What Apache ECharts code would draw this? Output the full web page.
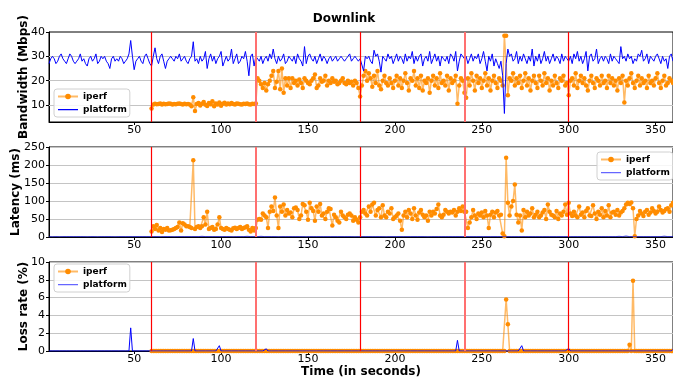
<!DOCTYPE html>
<html>
<head>
<meta charset="utf-8">
<script src="https://cdn.jsdelivr.net/npm/echarts@6.0.0/dist/echarts.min.js"></script>
<style>
  html, body { margin: 0; padding: 0; background: #fff; }
  #chart { width: 673px; height: 379px; }
</style>
</head>
<body>
<div id="chart"></div>
<script>
// time axis: platform samples start at t=1, iperf at t=60
const platformStart = 1;
const iperfStart = 60;
const xTicks = [50, 100, 150, 200, 250, 300, 350];
const phaseMarks = [60, 120, 180, 240, 300];
const bwTicks = [10, 20, 30, 40];

const platformBw = [
  27,29,30,29,27,28,30,31,29,28,27,29,31,30,28,27,28,29,31,28,
  29,27,26,29,30,28,29,31,27,28,30,29,30,28,27,25,29,30,28,29,
  28,30,29,27,28,29,31,36.5,30,24.5,28,29,30,28,27,30,31,29,27,26,
  30,33.5,29,27,30,31,28,25,28,29,30,29,28,30,29,31,28,29,30,28,
  27,29,30,36,28,29,27,30,28,29,32,25,29,31,28,30,27,29,30,32,
  26,28,30,28,29,33,27,29,31,27,28,30,29,32,28,22,30,31,26,30,
  29.5,28,30,27,29,30,28,31,29,33,29,27,30,28,29,31,27,28,30,29,
  28,30,27,31,29,28,26,34,27,30,31,29,28,30,27,29,31,28,30,29,
  27,29,30,28,29,30,28,29,30,29,28,29,30,31,28,29,30,29,28,29,
  29,24,30,29,30,28,27,32.5,30,31,28,23.5,30,29,28,31,29,30,27,29,
  31,28,30,29,27,31,28,30,29,32,27,30,28,30,31,26,29,30,28,32,
  27,29,31,28,30,26,30,29,28,30,27,31,30,28,32,24,28,31,30,29,
  30,27,29,31,28,30,29,31,27,29,32,28,24,30,28,31,26,29,27,25,
  28,22,6.5,27,33,30,31,28,29,32,
  27,30,28,31,29,27,30,28,33,26,
  30,28,31,27,29,32,28,30,27,29,31,28,30,29,27,31,28,30,29,28,
  30,27,31,29,32,28,30,27,29,32,24,30,31,28,29,33,27,29,30,28,
  30,29,27,31,28,30,29,28,27,34,29,30,28,31,29,30,27,29,28,31,
  30,32.5,28,29,31,27,30,29,28,30,31,29,27,30,28,29,25,30,31,28
];

const iperfBw = [
  8.5,
  10.2,10.5,10.3,10.4,10.6,10.2,10.5,10.3,10.4,10.6,10.5,10.2,10.4,10.3,10.5,10.6,10.4,10.2,10.5,10.3,
  10.4,10.2,9.5,13.2,7.5,10.4,10.8,9.8,10.5,11.2,10.1,9.6,10.8,10.3,11.5,9.5,10.6,10.2,11.0,9.7,
  10.5,10.9,10.2,10.6,10.3,10.8,10.4,10.2,10.6,10.5,10.3,10.2,10.5,10.4,10.6,10.3,10.2,10.5,10.4,10.6,
  21,20,18.5,17,19,16,18.5,20,22,24,17,19.5,24,16.5,25,15,21,18,21,17,
  21,19,20,18,20.5,19,17,21,20,19,18.5,20,21,22.5,17,18,21,19.5,20,22,
  18,20,19,21,19.5,20,18.5,19,20,21,19,18.5,20,19,19.5,18,20,19,17,13.5,
  18,22,24,20,23,21,17.5,22,19,24,18,16.5,20,22,19,18,21,19,17,20,
  22,18,21,17,20,23,19,16,21,20,24,18,21,17,22,16,20,19,21,15,
  20,22,18,21,17,23,19,20,18,22,16,21,19,20,22,10.5,18,21,20,15,
  13,21,18,23,20,16,22,19,21,17,20,23,18,21,16,20,22,19,17,21,
  20,18,38.5,38.5,14,21,20,23,18,21,
  19,22,17,20,23,18,21,16,20,22,
  19,17,22,20,18,23,19,21,16,20,18,22,19,17,21,20,22,18,19,14,
  20,21,18,23,17,20,22,19,21,18,16,20,22,19,17,21,20,18,22,19,
  20,17,22,19,21,18,20,16,21,19,22,11,20,18,21,23,19,17,20,22,
  18,21,19,20,17,22,19,20,18,21,23,19,17,20,22,18,19,21,20,19
];

const platformLat = [
  1,1,0.5,1,1,1,0.5,1,1,1, 1,0.5,1,1,1,1,1,0.5,1,1, 1,1,0.5,1,1,1,1,1,0.5,1,
  1,1,1,0.5,1,1,1,1,0.5,1, 1,1,1,1,1,0.5,1,2,1,1, 1,0.5,1,1,1,1,1,0.5,1,1,
  1,1,1,1,0.5,1,1,1,1,1, 1,1,0.5,1,1,1,1,1,1,1, 1,2,1,1,1,0.5,1,1,2,1,
  1,1,1,2,1,1,1,0.5,1,1, 1,1,1,1,1,1,0.5,1,1,1, 1,1,1,1,2,1,1,1,1,1,
  1,1,2,1,1,1,1,1,1,1, 1,1,0.5,1,1,1,1,1,1,1, 1,1,1,1,1,1,1,1,0.5,1,
  1,1,1,0.5,1,1,1,1,1,1, 1,1,1,1,1,0.5,1,1,1,1, 1,1,1,1,1,1,0.5,1,1,1,
  1,1,1,1,1,0.5,1,1,1,1, 1,1,1,1,0.5,1,1,1,1,1, 1,1,1,1,1,1,1,0.5,1,1,
  1,1,1,1,1,1,1,1,0.5,1, 1,1,1,1,1,1,1,1,1,1, 1,1,1,1,1,3,1,1,1,1,
  1,1,1,1,1,0.5,1,1,1,1, 1,1,1,1,1,1,1,1,1,1, 1,2,1,1,1,1,1,1,1,1,
  1,1,1,1,1,1,1,1,1,1, 1,0.5,1,1,1,1,1,1,1,1, 1,1,1,1,1,1,1,1,1,1,
  1,1,1,1,1,1,1,3,1,1, 1,2.5,1,1,1,1,1,3,1,1, 1,2,1,1,1,3.5,1,1,2,1,
  1,1,3,1,1,2.5,1,1,1,2, 1,1,1,1,1,1,1,1,1,1, 1,1,1,1,2.5,1,1,1,1,1
];

const iperfLat = [
  15,
  30,22,33,18,25,14,22,20,25,18,19,20,22,25,28,40,18,38,35,30,
  30,28,25,213,22,28,30,25,30,55,35,70,22,25,28,20,22,35,55,25,
  22,20,25,22,20,18,24,26,22,25,28,22,25,27,30,20,15,25,18,25,
  48,50,48,65,60,55,25,70,85,72,110,60,25,85,70,90,60,75,65,68,
  55,80,82,75,50,60,92,88,70,48,95,80,72,45,85,70,92,60,65,50,
  70,80,78,32,62,55,45,40,70,60,55,50,62,65,60,45,55,48,40,55,
  70,75,65,60,85,70,90,95,60,75,80,55,88,60,55,70,65,80,50,55,
  60,65,45,20,60,70,55,75,65,50,80,60,48,68,75,62,55,60,45,70,
  60,70,65,78,90,60,55,62,75,70,65,70,68,75,60,70,80,72,85,70,
  70,25,40,55,75,60,50,65,60,68,55,72,60,25,62,70,55,68,72,60,
  62,10,2,220,95,60,85,100,146,62,
  40,60,18,75,55,70,60,65,80,55,
  62,70,55,60,68,75,50,90,70,62,60,55,72,50,65,60,70,90,62,95,
  65,58,70,60,55,85,62,68,55,72,80,60,58,88,65,50,70,62,80,55,
  72,60,88,55,68,70,62,75,60,68,72,80,90,95,92,96,80,2,50,60,
  72,65,58,70,75,62,68,80,72,65,70,85,75,68,72,78,80,70,88,95
];

const platformLoss = [
  0,0,0,0,0,0,0,0,0,0, 0,0,0,0,0,0,0,0,0,0, 0,0,0,0,0,0,0,0,0,0,
  0,0,0,0,0,0,0,0,0,0, 0,0,0,0,0,0,0,2.6,0,0, 0,0,0,0,0,0,0,0,0,0,
  0,0,0,0,0,0,0,0,0,0, 0,0,0,0,0,0,0,0,0,0, 0,0,0,1.4,0,0,0,0,0,0,
  0,0,0,0,0,0,0,0,0.6,0, 0,0,0,0,0,0,0,0,0,0, 0,0,0,0,0,0,0,0,0,0,
  0,0,0,0,0,0.25,0,0,0,0, 0,0,0,0,0,0,0,0,0,0, 0,0,0,0,0,0,0,0.2,0,0,
  0,0,0,0,0,0,0,0,0,0, 0,0,0,0,0,0,0,0,0,0, 0,0,0,0,0,0,0,0,0,0,
  0,0,0,0,0,0,0,0,0,0, 0,0,0,0,0,0,0,0,0,0, 0,0,0,0,0,0,0,0,0,0,
  0,0,0,0,0,0,0,0,0,0, 0,0,0,0,0,0,0,0,0,0, 0,0,0,0,0,1.2,0,0,0,0,
  0,0,0,0,0,0,0,0,0,0, 0,0,0,0,0,0,0,0,0,0, 0,0,0,0,0,0,0,0,0,0,
  0,0,0.6,0,0,0,0,0,0,0, 0,0,0,0,0,0,0,0,0,0, 0,0,0,0,0,0,0,0,0,0.3,
  0,0,0,0,0,0,0,0,0,0, 0,0,0,0,0,0,0,0,0,0, 0,0,0,0,0,0,0,0,0,0,
  0,0,0,0,0,0,0,0,0,0, 0,0,0,0,0,0,0,0,0,0, 0,0,0,0,0,0,0,0,0,0.2
];

const iperfLoss = [
  0,
  0,0,0,0,0,0,0,0,0,0, 0,0,0,0,0,0,0,0,0,0, 0,0,0,0,0,0,0,0,0,0,
  0,0,0,0,0,0,0,0,0,0, 0,0,0,0,0,0,0,0,0,0, 0,0,0,0,0,0,0,0,0,0,
  0,0,0,0,0,0,0,0,0,0, 0,0,0,0,0,0,0,0,0,0, 0,0,0,0,0,0,0,0,0,0,
  0,0,0,0,0,0,0,0,0,0, 0,0,0,0,0,0,0,0,0,0, 0,0,0,0,0,0,0,0,0,0,
  0,0,0,0,0,0,0,0,0,0, 0,0,0,0,0,0,0,0,0,0, 0,0,0,0,0,0,0,0,0,0,
  0,0,0,0,0,0,0,0,0,0, 0,0,0,0,0,0,0,0,0,0, 0,0,0,0,0,0,0,0,0,0,
  0,0,0,0,0,0,0,0,0,0, 0,0,0,0,0,0,0,0,0,0, 0,0,0,5.8,3.0,0,0,0,0,0,
  0,0,0,0,0,0,0,0,0,0, 0,0,0,0,0,0,0,0,0,0, 0,0,0,0,0,0,0,0,0,0,
  0,0,0,0,0,0,0,0,0,0, 0,0,0,0,0,0,0,0,0,0, 0,0,0,0,0,0,0,0,0,0,
  0,0,0,0,0.7,0,7.9,0,0,0, 0,0,0,0,0,0,0,0,0,0, 0,0,0,0,0,0,0,0,0,0
];

const ORANGE = '#ff8c00';
const BLUE = '#0000ff';
const GRIDGRAY = '#c4c4c4';
// thin horizontal bar inside a 20x7 box, tiny corner specks pin the box size
const LINE_ICON = 'path://M0,3 L20,3 L20,4.3 L0,4.3 Z M0,0 L0.01,0 L0.01,0.01 Z M20,7 L19.99,7 L19.99,6.99 Z';

function pairs(start, arr) {
  return arr.map((v, i) => [start + i, v]);
}

function phaseLines() {
  return {
    silent: true,
    symbol: ['none', 'none'],
    label: { show: false },
    emphasis: { disabled: true },
    z: 4,
    data: phaseMarks.map(x => ({
      xAxis: x,
      lineStyle: x % 120 === 0
        ? { color: '#ff7070', width: 2, type: 'solid', opacity: 1 }
        : { color: '#ff0000', width: 1.2, type: 'solid', opacity: 1 }
    }))
  };
}

function xAxisFor(i, last) {
  return {
    type: 'value', gridIndex: i, min: 1, max: 360,
    axisLine: { onZero: false, lineStyle: { color: '#000', width: 1 } },
    axisTick: { customValues: xTicks, length: 3, lineStyle: { color: '#000' } },
    axisLabel: { customValues: xTicks, color: '#000', fontSize: 11, margin: 3 },
    splitLine: { show: false },
    name: last ? 'Time (in seconds)' : '',
    nameLocation: 'middle', nameGap: 15, nameMoveOverlap: false,
    nameTextStyle: { color: '#000', fontWeight: 'bold', fontSize: 12 }
  };
}

function yAxisFor(i, name, gap, extra) {
  return Object.assign({
    type: 'value', gridIndex: i,
    name: name, nameLocation: 'middle', nameGap: gap, nameMoveOverlap: false,
    nameTextStyle: { color: '#000', fontWeight: 'bold', fontSize: 12 },
    axisLine: { show: true, lineStyle: { color: '#000', width: 1 } },
    axisTick: { show: true, length: 3, lineStyle: { color: '#000' } },
    axisLabel: { color: '#000', fontSize: 11, margin: 4 },
    splitLine: { show: true, lineStyle: { color: GRIDGRAY, width: 1 } }
  }, extra);
}

function legendAt(left, top, i) {
  return {
    orient: 'vertical', left: left, top: top,
    padding: [2, 3, 2, 3], itemGap: 2, itemWidth: 20, itemHeight: 7,
    backgroundColor: 'rgba(255,255,255,0.85)', borderColor: '#d0d0d0',
    borderWidth: 1, borderRadius: 3,
    textStyle: { fontSize: 9, fontWeight: 'bold', color: '#000', lineHeight: 11 },
    data: [
      { name: 'iperf' },
      {
        name: 'platform', icon: LINE_ICON,
        itemStyle: { color: BLUE, opacity: i === 0 ? 1 : 0.6, borderWidth: 0 },
        lineStyle: { width: 0 }
      }
    ],
    selectedMode: false
  };
}

const iperfStyle = {
  type: 'line', symbol: 'circle', symbolSize: 4.5, z: 2,
  itemStyle: { color: ORANGE },
  lineStyle: { color: ORANGE, width: 1.5, opacity: 0.6 },
  emphasis: { disabled: true }
};
const platformStyle = {
  type: 'line', showSymbol: false, symbol: 'none', z: 3,
  itemStyle: { color: BLUE },
  lineStyle: { color: BLUE, width: 1 },
  emphasis: { disabled: true }
};

const option = {
  animation: false,
  textStyle: { fontFamily: 'DejaVu Sans' },
  title: {
    text: 'Downlink', left: 339, top: 8, textAlign: 'center',
    textStyle: { fontSize: 12, fontWeight: 'bold', color: '#000', fontFamily: 'DejaVu Sans' }
  },
  legend: [legendAt(54, 89, 0), legendAt(597, 152, 1), legendAt(54, 264, 2)],
  grid: [
    { left: 49, top: 32, width: 624, height: 90, show: true, borderColor: '#000', borderWidth: 1, containLabel: false },
    { left: 49, top: 147, width: 624, height: 90, show: true, borderColor: '#000', borderWidth: 1, containLabel: false },
    { left: 49, top: 262, width: 624, height: 90, show: true, borderColor: '#000', borderWidth: 1, containLabel: false }
  ],
  xAxis: [xAxisFor(0, false), xAxisFor(1, false), xAxisFor(2, true)],
  yAxis: [
    yAxisFor(0, 'Bandwidth (Mbps)', 19, {
      min: 3, max: 40,
      axisTick: { show: true, customValues: bwTicks, length: 3, lineStyle: { color: '#000' } },
      axisLabel: { customValues: bwTicks, color: '#000', fontSize: 11, margin: 4 },
      splitLine: { show: false }
    }),
    yAxisFor(1, 'Latency (ms)', 27, { min: 0, max: 250, interval: 50 }),
    yAxisFor(2, 'Loss rate (%)', 19, { min: 0, max: 10, interval: 2 })
  ],
  series: [
    Object.assign({}, iperfStyle, {
      name: 'iperf', xAxisIndex: 0, yAxisIndex: 0, data: pairs(iperfStart, iperfBw),
      markLine: phaseLines()
    }),
    Object.assign({}, platformStyle, {
      name: 'platform', xAxisIndex: 0, yAxisIndex: 0, data: pairs(platformStart, platformBw),
      markLine: {
        silent: true, symbol: ['none', 'none'], label: { show: false }, z: 1,
        emphasis: { disabled: true },
        data: bwTicks.filter(v => v < 40).map(v => ({
          yAxis: v, lineStyle: { color: GRIDGRAY, width: 1, type: 'solid', opacity: 1 }
        }))
      }
    }),
    Object.assign({}, iperfStyle, {
      name: 'iperf', xAxisIndex: 1, yAxisIndex: 1, data: pairs(iperfStart, iperfLat),
      markLine: phaseLines()
    }),
    Object.assign({}, platformStyle, {
      name: 'platform', xAxisIndex: 1, yAxisIndex: 1, data: pairs(platformStart, platformLat),
      lineStyle: { color: BLUE, width: 1, opacity: 0.6 }
    }),
    Object.assign({}, iperfStyle, {
      name: 'iperf', xAxisIndex: 2, yAxisIndex: 2, data: pairs(iperfStart, iperfLoss),
      markLine: phaseLines()
    }),
    Object.assign({}, platformStyle, {
      name: 'platform', xAxisIndex: 2, yAxisIndex: 2, data: pairs(platformStart, platformLoss)
    })
  ]
};

const chart = echarts.init(document.getElementById('chart'), null, { renderer: 'canvas' });
chart.setOption(option);
</script>
</body>
</html>
